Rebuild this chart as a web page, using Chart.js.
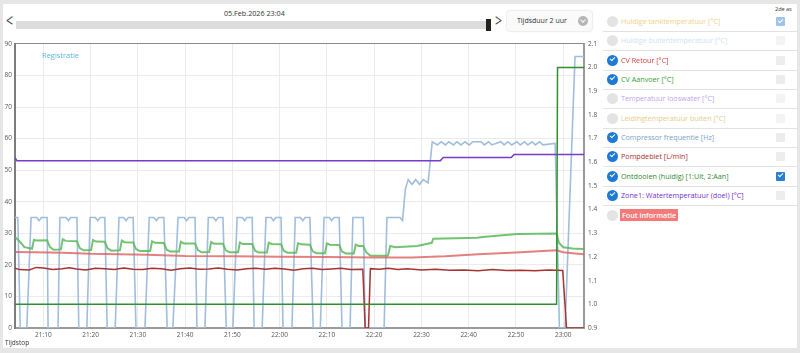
<!DOCTYPE html>
<html>
<head>
<meta charset="utf-8">
<script src="https://cdn.jsdelivr.net/npm/chart.js@4"></script>
<style>
  body { margin: 0; background: #e6e6e6; font-family: "Open Sans", sans-serif; }
  #card { position: absolute; left: 3px; top: 4px; width: 794px; height: 344px; background: #fff; }
  .abs { position: absolute; white-space: nowrap; }
  #title { left: 224px; top: 8px; font-size: 7.2px; color: #333; }
  #track { left: 16px; top: 21px; width: 472px; height: 8px; background: #dcdcdc; }
  #handle { left: 486px; top: 19px; width: 5px; height: 12px; background: #222; }
  .chev { font-size: 19px; color: #444; top: 11px; line-height: 19px; transform: scaleX(0.65); }
  #drop { left: 507px; top: 11px; width: 85px; height: 20px; border-radius: 3px; background: #fafafa;
          box-shadow: 0 0 2px rgba(0,0,0,0.25); }
  #drop span { position: absolute; left: 10px; top: 5px; font-size: 7px; color: #333; }
  #drop i { position: absolute; left: 71px; top: 5px; width: 10px; height: 10px; border-radius: 5px; background: #b5b5b5; }
  #drop i::after { content: ""; position: absolute; left: 3px; top: 2px; width: 3px; height: 3px;
          border-right: 1.3px solid #fff; border-bottom: 1.3px solid #fff; transform: rotate(45deg); }
  #reg { left: 42px; top: 50px; font-size: 7.5px; color: #5ab4e6; }
  #tijd { left: 5px; top: 338px; font-size: 6.5px; color: #333; }
  #chart { position: absolute; left: 0; top: 36px; }
  .row { position: absolute; left: 603px; width: 194px; height: 19px; }
  .row.sep { border-bottom: 1px solid #e2e2e2; }
  .dot { position: absolute; left: 4px; top: 4px; width: 11px; height: 11px; border-radius: 6px; background: #e3e3e3; }
  .dot.on { background: #1f7ad3; }
  .dot.on::after { content: ""; position: absolute; left: 3px; top: 2px; width: 4px; height: 2px;
          border-left: 1.5px solid #fff; border-bottom: 1.5px solid #fff; transform: rotate(-45deg); }
  .lbl { position: absolute; left: 18px; top: 3px; font-size: 7.2px; line-height: 12px; font-weight: 500; }
  .box { position: absolute; left: 173px; top: 5px; width: 9px; height: 9px; border-radius: 1px; background: #ececec; }
  .box.faint { background: #f3f3f3; }
  .box.chk { background: #2a7fd3; }
  .box.chk.faint { background: #9fc4e9; }
  .box.chk::after { content: ""; position: absolute; left: 2px; top: 1.5px; width: 4px; height: 2px;
          border-left: 1.5px solid #fff; border-bottom: 1.5px solid #fff; transform: rotate(-45deg); }
  #as2 { left: 775px; top: 5px; font-size: 5.5px; color: #333; }
</style>
</head>
<body>
<div id="card"></div>
<div class="abs" id="title">05.Feb.2026 23:04</div>
<div class="abs chev" style="left:4px">&lt;</div>
<div class="abs" id="track"></div>
<div class="abs" id="handle"></div>
<div class="abs chev" style="left:493px">&gt;</div>
<div class="abs" id="drop"><span>Tijdsduur 2 uur</span><i></i></div>
<canvas id="chart" width="600" height="314"></canvas>
<div class="abs" id="reg">Registratie</div>
<div class="abs" id="tijd">Tijdstop</div>
<div class="abs" id="as2">2de as</div>
<div id="legend"></div>

<script>
// x values are minutes after 21:00
const xTicks = [10, 20, 30, 40, 50, 60, 70, 80, 90, 100, 110, 120];
const xTickLabels = ['21:10', '21:20', '21:30', '21:40', '21:50', '22:00', '22:10', '22:20', '22:30', '22:40', '22:50', '23:00'];
const yTicks = [0, 10, 20, 30, 40, 50, 60, 70, 80, 90];
const y2Ticks = [0.9, 1.0, 1.1, 1.2, 1.3, 1.4, 1.5, 1.6, 1.7, 1.8, 1.9, 2.0, 2.1];

// CV Retour [°C]
const retourTime = [4, 8, 14, 20, 26, 32, 40, 50, 60, 70, 80, 88, 95, 102, 110, 118.6, 120, 122, 124.4];
const retourVal = [24.1, 24.0, 23.8, 23.5, 23.4, 23.2, 22.8, 22.7, 22.6, 22.5, 22.3, 22.3, 22.7, 23.4, 23.9, 24.6, 24.0, 23.7, 23.4];

// CV Aanvoer [°C]
const aanvoerTime = [4, 5, 6, 7.6, 8.0, 8.6, 10.8, 11.4, 12.2, 13.7, 14.1, 14.7, 17.1, 17.7, 18.5, 20.1, 20.5, 21.1, 23.0, 23.6, 24.4,
  26.2, 26.6, 27.2, 29.0, 29.6, 30.4, 32.6, 33.0, 33.6, 35.5, 36.1, 36.9, 38.7, 39.1, 39.7, 42.1, 42.7, 43.5,
  45.1, 45.5, 46.1, 48.0, 48.6, 49.4, 51.2, 51.6, 52.2, 54.2, 54.8, 55.6, 57.3, 57.7, 58.3, 60.3, 60.9, 61.7,
  63.5, 63.9, 64.5, 66.4, 67.0, 67.8, 69.6, 70.0, 70.6, 72.6, 73.2, 74.0, 75.7, 76.1, 76.7, 77.7, 78.3, 79.2,
  82.9, 83.4, 84.5, 89.1, 92.2, 92.5, 101.8, 103.5, 110.3, 118.6, 119.1, 120.0, 122, 124.4];
const aanvoerVal = [28.8, 27.4, 25.6, 25.1, 27.9, 27.7, 27.8, 25.6, 24.8, 24.9, 28.1, 27.6, 27.5, 25.3, 24.6, 24.7, 27.9, 27.4, 27.3, 25.2, 24.5,
  24.6, 27.7, 27.2, 27.1, 25.0, 24.4, 24.4, 27.5, 27.0, 26.9, 24.8, 24.2, 24.2, 27.3, 26.8, 26.8, 24.7, 24.0,
  24.1, 27.2, 26.7, 26.7, 24.6, 24.0, 24.0, 27.1, 26.6, 26.6, 24.5, 23.9, 23.9, 27.0, 26.6, 26.5, 24.4, 23.8,
  23.8, 26.9, 26.5, 26.4, 24.3, 23.7, 23.7, 26.8, 26.4, 26.3, 24.2, 23.6, 23.6, 26.4, 26.0, 26.0, 24.0, 22.9,
  22.9, 26.0, 25.6, 26.0, 27.0, 28.3, 28.6, 28.9, 29.8, 29.9, 27.0, 25.6, 25.2, 25.0];

// Compressor frequentie [Hz]
const compTime = [4.0, 4.6, 5.1, 6.5, 7.4, 8.6, 9.1, 9.6, 10.8, 11.0, 13.1, 13.5, 14.8, 15.3, 15.8, 17.1, 17.5, 19.2, 19.9, 21.0, 21.5, 22.0, 23.0, 23.5,
  25.2, 26.0, 27.0, 27.5, 28.0, 29.0, 29.6, 31.5, 32.4, 33.4, 33.9, 34.4, 35.5, 36.2, 37.4, 38.5, 39.8, 40.3, 40.8, 42.1, 42.5,
  44.2, 44.9, 46.0, 46.5, 47.0, 48.0, 48.7, 50.1, 51.0, 52.1, 52.6, 53.1, 54.2, 54.6, 56.3, 57.1, 58.2, 58.7, 59.2, 60.3, 60.7,
  62.6, 63.3, 64.4, 64.9, 65.4, 66.4, 67.1, 68.6, 69.4, 70.5, 71.0, 71.5, 72.6, 73.2, 74.9, 75.5, 77.7, 78.1,
  82.1, 82.7, 85.5, 86.0, 86.6, 87.2, 88.0, 88.8, 89.6, 90.4, 91.4, 92.3, 93.4, 94.2, 95.1, 95.8, 96.8, 97.5, 98.4, 99.2,
  100.1, 100.9, 102.6, 103.3, 104.2, 104.9, 106.8, 107.5, 108.3, 109.1, 110.2, 110.9, 111.8, 112.5, 113.4, 114.1, 115.0, 115.7, 118.3,
  119.2, 120.4, 122.5, 124.4];
const compVal = [35, 35, 0, 0, 35, 35, 34, 35, 35, 0, 0, 35, 35, 34, 35, 35, 0, 0, 35, 35, 34, 35, 35, 0,
  0, 35, 35, 34, 35, 35, 0, 0, 35, 35, 34, 35, 35, 0, 0, 35, 35, 34, 35, 35, 0,
  0, 35, 35, 34, 35, 35, 0, 0, 35, 35, 34, 35, 35, 0, 0, 35, 35, 34, 35, 35, 0,
  0, 35, 35, 34, 35, 35, 0, 0, 35, 35, 34, 35, 35, 0, 0, 35, 35, 0,
  0, 35, 35, 34, 44, 47, 45.5, 47, 45.5, 47, 46, 59, 58, 59, 58, 59, 58, 59, 58, 59,
  58, 59, 59, 58, 59, 58, 59, 58, 59, 58, 59, 58, 59, 58, 59, 58, 59, 58, 58.5,
  0, 0, 86, 86];

// Pompdebiet [L/min]
const pompTime = [4, 5, 7, 8.5, 10, 12, 14, 15.5, 17, 19, 21, 23, 25, 27, 29, 31, 33, 35, 37, 39, 41, 43, 45, 47, 49, 51, 53, 55, 57, 59,
  61, 63, 65, 67, 69, 71, 73, 75, 77.6, 78.1, 78.8, 79.2, 81, 83, 85, 87, 90, 93, 96, 99, 102, 105, 108, 111, 114, 117, 119.9, 120.7, 124.4];
const pompVal = [18.9, 18.5, 18.4, 19.2, 19.0, 18.5, 18.8, 19.1, 18.7, 18.4, 18.9, 18.8, 18.5, 19.0, 18.6, 18.5, 18.9, 18.8, 18.3, 18.8, 19.0, 18.6, 18.7, 19.0, 18.6, 18.4, 18.8, 18.9, 18.6, 18.9,
  18.7, 18.3, 18.8, 18.9, 18.5, 18.7, 18.9, 18.5, 18.6, 0, 0, 18.8, 18.6, 18.9, 18.5, 18.8, 18.4, 18.6, 18.3, 18.4, 18.1, 18.5, 18.2, 18.3, 18.1, 18.4, 18.2, 0, 0];

// Ontdooien (huidig) [1:Uit, 2:Aan] - 2nd axis
const ontdTime = [4, 118.6, 118.8, 124.4];
const ontdVal = [1, 1, 2, 2];

// Zone1: Watertemperatuur (doel) [°C]
const zoneTime = [4, 4.4, 94.0, 94.6, 109.0, 109.6, 124.4];
const zoneVal = [54, 53, 53, 54, 54, 55, 55];

// legend rows: [label, colour, active, 2nd axis checked]
const legendRows = [
  ['Huidige tanktemperatuur [°C]', '#f2cf88', false, true],
  ['Huidige buitentemperatuur [°C]', '#cde3f6', false, false],
  ['CV Retour [°C]', '#d63c38', true, false],
  ['CV Aanvoer [°C]', '#34a234', true, false],
  ['Temperatuur looswater [°C]', '#c39ff0', false, false],
  ['Leidingtemperatuur buiten [°C]', '#e6cb8f', false, false],
  ['Compressor frequentie [Hz]', '#7aa3ca', true, false],
  ['Pompdebiet [L/min]', '#ad2d2d', true, false],
  ['Ontdooien (huidig) [1:Uit, 2:Aan]', '#2e8a2e', true, true],
  ['Zone1: Watertemperatuur (doel) [°C]', '#7431cf', true, false]
];

const legend = document.getElementById('legend');
legendRows.forEach((r, i) => {
  const row = document.createElement('div');
  row.className = 'row sep';
  row.style.top = (12 + i * 19.35) + 'px';
  row.innerHTML = '<div class="dot' + (r[2] ? ' on' : '') + '"></div>' +
    '<div class="lbl" style="color:' + r[1] + '">' + r[0] + '</div>' +
    '<div class="box' + (r[3] ? ' chk' : '') + (r[2] ? '' : ' faint') + '"></div>';
  legend.appendChild(row);
});
const fout = document.createElement('div');
fout.className = 'row';
fout.style.top = (12 + 10 * 19.35) + 'px';
fout.innerHTML = '<div class="dot"></div><div class="lbl" style="background:#f47a7a;color:#fff;font-weight:600;padding:0 2px;left:17px">Fout informatie</div>';
legend.appendChild(fout);

function pts(xs, ys) {
  return xs.map((x, i) => ({ x: x, y: ys[i] }));
}

function line(label, xs, ys, color, width, axis) {
  return {
    label: label,
    data: pts(xs, ys),
    borderColor: color,
    borderWidth: width,
    pointRadius: 0,
    tension: 0,
    fill: false,
    yAxisID: axis || 'y'
  };
}

const tickFont = { family: 'Open Sans', size: 6.5 };

const ctx = document.getElementById('chart').getContext('2d');
const myChart = new Chart(ctx, {
  type: 'line',
  data: {
    datasets: [
      line('Zone1: Watertemperatuur (doel) [°C]', zoneTime, zoneVal, '#7a3cc8', 1.5),
      line('Ontdooien (huidig) [1:Uit, 2:Aan]', ontdTime, ontdVal, '#2f8f2f', 1.5, 'y2'),
      line('Pompdebiet [L/min]', pompTime, pompVal, '#a83232', 1.5),
      line('CV Retour [°C]', retourTime, retourVal, 'rgba(222,96,96,0.8)', 2),
      line('CV Aanvoer [°C]', aanvoerTime, aanvoerVal, 'rgba(90,185,90,0.85)', 2),
      line('Compressor frequentie [Hz]', compTime, compVal, '#a0bedc', 1.6)
    ]
  },
  options: {
    responsive: false,
    animation: false,
    layout: { padding: { top: 5 } },
    plugins: { legend: { display: false }, tooltip: { enabled: false } },
    scales: {
      x: {
        type: 'linear',
        min: 4,
        max: 124.4,
        afterBuildTicks: s => { s.ticks = xTicks.map(v => ({ value: v })); },
        afterFit: s => { s.height = 22; },
        ticks: {
          font: tickFont, color: '#555', padding: 3, maxRotation: 0, autoSkip: false,
          callback: v => xTickLabels[xTicks.indexOf(v)]
        },
        grid: { color: '#ebebeb', drawTicks: false },
        border: { color: '#9a9a9a', width: 2 }
      },
      y: {
        position: 'left',
        min: 0,
        max: 90,
        afterBuildTicks: s => { s.ticks = yTicks.map(v => ({ value: v })); },
        afterFit: s => { s.width = 15; },
        ticks: { font: tickFont, color: '#555', padding: 3 },
        grid: { color: c => c.tick.value === 90 ? '#8a8a8a' : '#ebebeb', drawTicks: false },
        border: { color: '#7d7d7d', width: 2 }
      },
      y2: {
        position: 'right',
        min: 0.9,
        max: 2.1,
        afterBuildTicks: s => { s.ticks = y2Ticks.map(v => ({ value: v })); },
        afterFit: s => { s.width = 16; },
        ticks: { font: tickFont, color: '#555', padding: 4, callback: v => v.toFixed(1) },
        grid: { drawOnChartArea: false, drawTicks: false },
        border: { color: '#9a9a9a', width: 2 }
      }
    }
  }
});
</script>
</body>
</html>
